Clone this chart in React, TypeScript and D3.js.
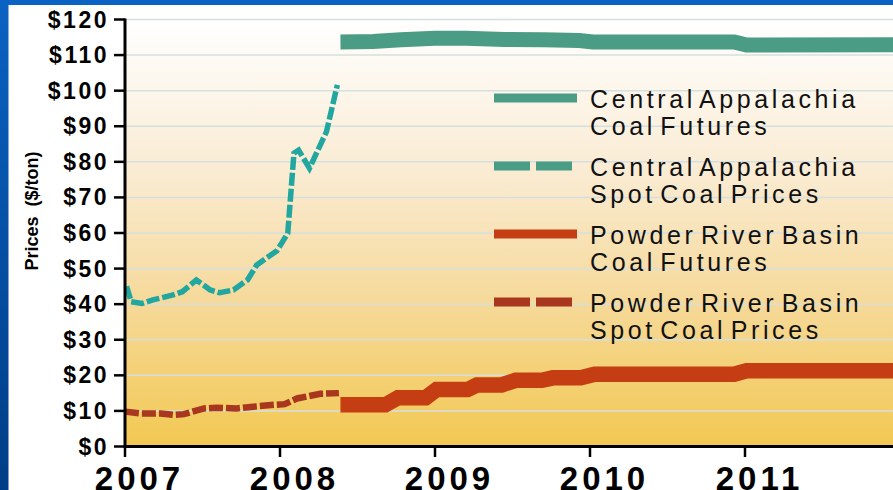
import * as d3 from "d3";

const W = 893;
const H = 490;

const years = [2007, 2008, 2009, 2010, 2011];
const priceTicks = d3.range(0, 121, 10);

// [decimal year, $/ton]
const cappSpot: [number, number][] = [
  [2007.01, 45], [2007.04, 40.7], [2007.11, 40.2], [2007.18, 41.2],
  [2007.31, 42.6], [2007.37, 43.5], [2007.46, 46.8], [2007.55, 44.0],
  [2007.61, 43.2], [2007.7, 44.0], [2007.79, 46.8], [2007.85, 51.0],
  [2007.91, 52.9], [2007.98, 55.0], [2008.05, 59.9], [2008.09, 82.4],
  [2008.12, 83.3], [2008.19, 78.2], [2008.3, 88.5], [2008.37, 101.6],
];

const cappFutures: [number, number][] = [
  [2008.39, 113.7], [2008.6, 113.8], [2008.78, 114.3], [2009.0, 114.7],
  [2009.2, 114.7], [2009.45, 114.4], [2009.7, 114.3], [2009.93, 114.1],
  [2010.02, 113.7], [2010.93, 113.7], [2011.01, 112.8], [2011.96, 112.9],
];

const prbSpot: [number, number][] = [
  [2007.0, 9.8], [2007.1, 9.3], [2007.23, 9.3], [2007.31, 8.9],
  [2007.38, 9.1], [2007.51, 10.7], [2007.59, 10.9], [2007.72, 10.7],
  [2007.83, 11.2], [2007.96, 11.7], [2008.03, 11.9], [2008.11, 13.5],
  [2008.26, 14.8], [2008.38, 15.0],
];

const prbFutures: [number, number][] = [
  [2008.39, 11.7], [2008.68, 11.7], [2008.76, 13.7], [2008.94, 13.7],
  [2009.01, 16.0], [2009.21, 16.0], [2009.27, 17.3], [2009.43, 17.3],
  [2009.52, 18.6], [2009.69, 18.6], [2009.76, 19.3], [2009.94, 19.3],
  [2010.03, 20.3], [2010.93, 20.3], [2011.01, 21.3], [2011.96, 21.3],
];

const legendItems = [
  { lines: ["Central Appalachia", "Coal Futures"], color: "#4a9c84", dashed: false },
  { lines: ["Central Appalachia", "Spot Coal Prices"], color: "#4a9c84", dashed: true },
  { lines: ["Powder River Basin", "Coal Futures"], color: "#c53d13", dashed: false },
  { lines: ["Powder River Basin", "Spot Coal Prices"], color: "#a9361f", dashed: true },
];

export default function App() {
  const margin = { top: 19.5, left: 125, bottom: 446.5 };

  const x = d3.scaleLinear().domain([2007, 2011]).range([margin.left, 745]);
  const y = d3.scaleLinear().domain([0, 120]).range([margin.bottom, margin.top]);

  const line = d3
    .line<[number, number]>()
    .x((d) => x(d[0]))
    .y((d) => y(d[1]));

  const tickFont = "'Liberation Sans', Arial, sans-serif";

  return (
    <svg
      width={W}
      height={H}
      style={{ position: "absolute", left: 0, top: 0, display: "block" }}
    >
      <defs>
        <linearGradient id="plotBg" x1="0" y1="0" x2="0" y2="1">
          <stop offset="0%" stopColor="#ffffff" />
          <stop offset="35%" stopColor="#faecd4" />
          <stop offset="65%" stopColor="#f6da9c" />
          <stop offset="100%" stopColor="#f2c852" />
        </linearGradient>
        <linearGradient id="frameBg" x1="0" y1="0" x2="0" y2="1">
          <stop offset="0%" stopColor="#0a62c2" />
          <stop offset="100%" stopColor="#003d86" />
        </linearGradient>
      </defs>

      {/* slide frame */}
      <rect x={0} y={0} width={W} height={H} fill="url(#frameBg)" />
      <rect x={8.5} y={5} width={W - 8.5} height={H - 5} fill="#ffffff" />

      {/* plot background */}
      <rect
        x={margin.left}
        y={margin.top}
        width={W - margin.left}
        height={margin.bottom - margin.top}
        fill="url(#plotBg)"
      />

      {/* grid */}
      {priceTicks.slice(1).map((t) => (
        <line
          key={t}
          x1={margin.left}
          x2={W}
          y1={y(t)}
          y2={y(t)}
          stroke="#d6dfe0"
          strokeWidth={1.5}
        />
      ))}

      {/* series */}
      <path d={line(cappFutures)!} fill="none" stroke="#4a9c84" strokeWidth={15} />
      <path d={line(prbFutures)!} fill="none" stroke="#c53d13" strokeWidth={15.5} />
      <path
        d={line(cappSpot)!}
        fill="none"
        stroke="#22a7a0"
        strokeWidth={5.5}
        strokeDasharray="13,3"
      />
      <path
        d={line(prbSpot)!}
        fill="none"
        stroke="#a9361f"
        strokeWidth={6.5}
        strokeDasharray="14,3"
      />

      {/* y axis */}
      <line x1={margin.left} x2={margin.left} y1={margin.top - 1} y2={margin.bottom + 1} stroke="#000" strokeWidth={3} />
      {priceTicks.map((t) => (
        <g key={t}>
          <line x1={114} x2={margin.left} y1={y(t)} y2={y(t)} stroke="#000" strokeWidth={2.5} />
          <text
            x={109}
            y={y(t) + 8}
            textAnchor="end"
            fontFamily={tickFont}
            fontWeight="bold"
            fontSize={23}
            letterSpacing={2.5}
            fill="#000"
          >
            {`$${t}`}
          </text>
        </g>
      ))}

      {/* x axis */}
      <line x1={margin.left - 1.5} x2={W} y1={margin.bottom} y2={margin.bottom} stroke="#000" strokeWidth={3} />
      {years.map((yr) => (
        <g key={yr}>
          <line x1={x(yr)} x2={x(yr)} y1={margin.bottom} y2={457} stroke="#000" strokeWidth={2.5} />
          <text
            x={x(yr) + 14.5}
            y={490}
            textAnchor="middle"
            fontFamily={tickFont}
            fontWeight="bold"
            fontSize={33}
            letterSpacing={4}
            fill="#000"
          >
            {yr}
          </text>
        </g>
      ))}

      {/* y axis title */}
      <text
        transform="translate(38,211) rotate(-90)"
        textAnchor="middle"
        fontFamily={tickFont}
        fontWeight="bold"
        fontSize={18}
        wordSpacing={5}
        fill="#000"
      >
        Prices ($/ton)
      </text>

      {/* legend */}
      {legendItems.map((item, i) => {
        const ly = 98 + i * 68;
        return (
          <g key={i}>
            <line
              x1={494}
              x2={item.dashed ? 574 : 577}
              y1={ly}
              y2={ly}
              stroke={item.color}
              strokeWidth={9}
              strokeDasharray={item.dashed ? "36,6" : undefined}
            />
            {item.lines.map((s, j) => (
              <text
                key={j}
                x={590}
                y={ly + 9.5 + j * 27}
                fontFamily={tickFont}
                fontSize={25}
                letterSpacing={3.6}
                wordSpacing={-6}
                fill="#111"
              >
                {s}
              </text>
            ))}
          </g>
        );
      })}
    </svg>
  );
}
